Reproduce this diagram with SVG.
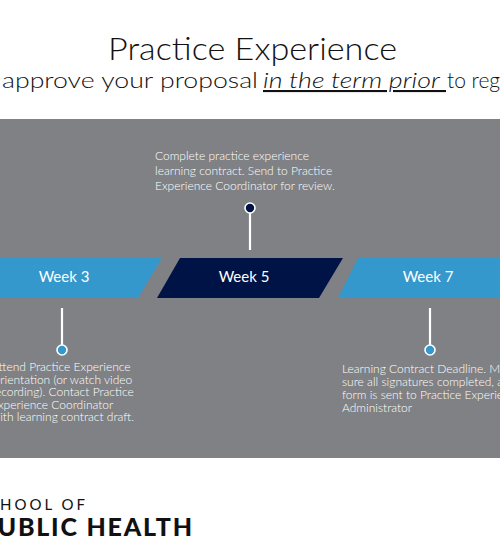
<svg xmlns="http://www.w3.org/2000/svg" width="500" height="550" viewBox="0 0 500 550">
<style>
.t{font-family:Lato,"Noto Sans",sans-serif;}
.desc{font-family:Lato,"Noto Sans",sans-serif;font-size:12px;fill:#ffffff;font-weight:300;}
.wk{font-family:Lato,"Noto Sans",sans-serif;font-size:15px;fill:#ffffff;text-anchor:middle;font-weight:400;}
.stem{stroke:#ffffff;stroke-width:2.2;}
.dot{stroke:#ffffff;stroke-width:1.6;}
</style>
<rect width="500" height="550" fill="#ffffff"/>
<text class="t" x="108" y="60" font-size="32" textLength="289" lengthAdjust="spacingAndGlyphs" fill="#111111" font-weight="300">Practice Experience</text>
<text class="t" y="88" font-size="21" fill="#111111" font-weight="300"><tspan x="2" textLength="256" lengthAdjust="spacingAndGlyphs">approve your proposal</tspan><tspan x="263" font-style="italic" text-decoration="underline" textLength="183" lengthAdjust="spacingAndGlyphs">in the term prior </tspan><tspan x="447">to register</tspan></text>
<rect x="0" y="119" width="500" height="339" fill="#7f8184"/>
<g id="week3">
<polygon points="-5,258 162,258 138,298 -5,298" fill="#3498cd"/>
<text class="wk" x="64" y="282">Week 3</text>
</g>
<g id="week5">
<polygon points="180,258 343,258 319,298 157,298" fill="#001346"/>
<text class="wk" x="244" y="282">Week 5</text>
</g>
<g id="week7">
<polygon points="358,258 505,258 505,298 338,298" fill="#3498cd"/>
<text class="wk" x="428" y="282">Week 7</text>
</g>
<g id="connectors">
<line class="stem" x1="250" y1="213" x2="250" y2="250"/>
<line class="stem" x1="62" y1="308" x2="62" y2="345"/>
<line class="stem" x1="430" y1="308" x2="430" y2="345"/>
</g>
<g id="note5">
<circle class="dot" cx="250" cy="208" r="5" fill="#001346"/>
<text class="desc"><tspan x="155" y="160">Complete practice experience</tspan><tspan x="155" y="175">learning contract. Send to Practice</tspan><tspan x="155" y="190">Experience Coordinator for review.</tspan></text>
</g>
<g id="note3">
<circle class="dot" cx="62" cy="350" r="5" fill="#3498cd"/>
<text class="desc"><tspan x="-9" y="371">Attend Practice Experience</tspan><tspan x="-9" y="383.5">Orientation (or watch video</tspan><tspan x="-9" y="396">recording). Contact Practice</tspan><tspan x="-9" y="408.5">Experience Coordinator</tspan><tspan x="-9" y="421">with learning contract draft.</tspan></text>
</g>
<g id="note7">
<circle class="dot" cx="430" cy="350" r="5" fill="#3498cd"/>
<text class="desc"><tspan x="342" y="373">Learning Contract Deadline. Make</tspan><tspan x="342" y="386">sure all signatures completed, and</tspan><tspan x="342" y="399">form is sent to Practice Experience</tspan><tspan x="342" y="412">Administrator</tspan></text>
</g>
<text class="t" x="-24" y="510" font-size="15" textLength="109" lengthAdjust="spacing" fill="#111111" font-weight="400">SCHOOL OF</text>
<text class="t" x="-20" y="536" font-size="25" textLength="212" lengthAdjust="spacing" fill="#111111" font-weight="900">PUBLIC HEALTH</text>
</svg>
